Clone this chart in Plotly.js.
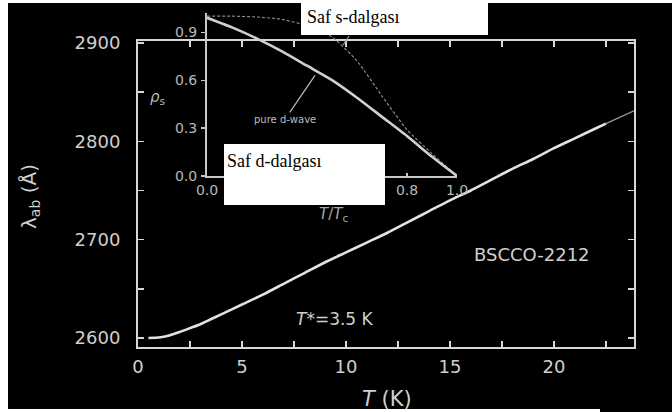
<!DOCTYPE html>
<html>
<head>
<meta charset="utf-8">
<script src="https://cdn.plot.ly/plotly-3.0.1.min.js"></script>
<style>html,body{margin:0;padding:0;background:#000;}#chart{width:672px;height:412px;}</style>
</head>
<body>
<div id="chart"></div>
<script>
// Main curve: penetration depth vs temperature (BSCCO-2212)
const tempK = [0.5, 1, 1.5, 2, 2.5, 3, 3.5, 4, 5, 6, 7, 8, 9, 10, 11, 12, 13, 14, 15, 16, 17, 18, 19, 20, 21, 22, 22.5];
const lambdaAb = [2600, 2600.5, 2602.5, 2606, 2610, 2614, 2619, 2624, 2634, 2644, 2655, 2666, 2677, 2687, 2697, 2707, 2718, 2729, 2740, 2750, 2761, 2772, 2782, 2793, 2803, 2813, 2818];
const tailTempK = [22.5, 23.85];
const tailLambda = [2818, 2831];

// Inset: superfluid density vs reduced temperature
const tReduced = [0, 0.1, 0.2, 0.3, 0.4, 0.5, 0.6, 0.7, 0.8, 0.9, 1.0];
const rhoDwave = [0.99, 0.93, 0.86, 0.78, 0.69, 0.60, 0.49, 0.37, 0.25, 0.12, 0.0];
const rhoSwave = [1.0, 1.0, 0.995, 0.98, 0.94, 0.87, 0.72, 0.50, 0.29, 0.14, 0.0];

const mainXTicks = [0, 5, 10, 15, 20];
const mainYTicks = [2600, 2700, 2800, 2900];
const insetXTicks = [0, 0.2, 0.4, 0.6, 0.8, 1.0];
const insetXTickText = ['0.0', '0.2', '0.4', '0.6', '0.8', '1.0'];
const insetYTicks = [0, 0.3, 0.6, 0.9];
const insetYTickText = ['0.0', '0.3', '0.6', '0.9'];

const W = 672, H = 412;
const px = x => x / W;
const py = y => 1 - y / H;

const FONT = 'DejaVu Sans, Liberation Sans, Arial, sans-serif';
const SERIF = 'Liberation Serif, Times New Roman, serif';
const AX = '#d6d6d6';

const traces = [
  {x: tempK, y: lambdaAb, type: 'scatter', mode: 'lines', xaxis: 'x', yaxis: 'y',
   line: {color: '#e2e2e2', width: 2.6, shape: 'spline', smoothing: 0.6}, hoverinfo: 'skip'},
  {x: tailTempK, y: tailLambda, type: 'scatter', mode: 'lines', xaxis: 'x', yaxis: 'y',
   line: {color: '#9a9a9a', width: 1.3}, hoverinfo: 'skip'},
  {x: tReduced, y: rhoSwave, type: 'scatter', mode: 'lines', xaxis: 'x2', yaxis: 'y2',
   line: {color: '#8a8a8a', width: 1.2, dash: '3px,2px', shape: 'spline', smoothing: 0.6}, hoverinfo: 'skip'},
  {x: tReduced, y: rhoDwave, type: 'scatter', mode: 'lines', xaxis: 'x2', yaxis: 'y2',
   line: {color: '#d0d0d0', width: 2.6, shape: 'spline', smoothing: 0.6}, hoverinfo: 'skip'}
];

const layout = {
  width: W, height: H,
  margin: {l: 0, r: 0, t: 0, b: 0},
  paper_bgcolor: '#000',
  plot_bgcolor: 'rgba(0,0,0,0)',
  showlegend: false,
  font: {family: FONT, color: '#cfcfcf'},
  xaxis: {
    domain: [px(138), px(634)], range: [0, 23.85], anchor: 'y',
    showgrid: false, zeroline: false,
    showline: true, linecolor: AX, linewidth: 2, mirror: 'ticks',
    ticks: 'inside', ticklen: 6, tickwidth: 1.6, tickcolor: AX,
    tickvals: mainXTicks, ticktext: mainXTicks.map(String),
    minor: {ticks: 'inside', dtick: 2.5, tick0: 0, ticklen: 6, tickwidth: 1.6, tickcolor: AX, showgrid: false},
    tickfont: {size: 18, color: '#cfcfcf', family: FONT},
    ticklabelstandoff: 2
  },
  yaxis: {
    domain: [py(347), py(41)], range: [2590.8, 2902], anchor: 'x',
    showgrid: false, zeroline: false,
    showline: true, linecolor: AX, linewidth: 2, mirror: 'ticks',
    ticks: 'inside', ticklen: 6, tickwidth: 1.6, tickcolor: AX,
    tickvals: mainYTicks, ticktext: mainYTicks.map(String),
    minor: {ticks: 'inside', dtick: 50, tick0: 2600, ticklen: 6, tickwidth: 1.6, tickcolor: AX, showgrid: false},
    tickfont: {size: 18, color: '#cfcfcf', family: FONT},
    ticklabelstandoff: 12
  },
  xaxis2: {
    domain: [px(207), px(457)], range: [0, 1], anchor: 'y2',
    showgrid: false, zeroline: false,
    showline: true, linecolor: '#c8c8c8', linewidth: 2,
    ticks: 'inside', ticklen: 3, tickwidth: 1.2, tickcolor: '#c8c8c8',
    tickvals: insetXTicks, ticktext: insetXTickText,
    tickfont: {size: 14, color: '#b8b8b8', family: FONT},
    ticklabelstandoff: 0
  },
  yaxis2: {
    domain: [py(176), py(13)], range: [0, 1.02], anchor: 'x2',
    showgrid: false, zeroline: false,
    showline: true, linecolor: '#c8c8c8', linewidth: 2,
    ticks: 'outside', ticklen: 4, tickwidth: 1.2, tickcolor: '#c8c8c8',
    tickvals: insetYTicks, ticktext: insetYTickText,
    tickfont: {size: 14, color: '#b8b8b8', family: FONT},
    ticklabelstandoff: 1
  },
  shapes: [
    {type: 'rect', xref: 'paper', yref: 'paper', x0: 0, x1: px(8), y0: 0, y1: 1, fillcolor: '#fff', line: {width: 0}, layer: 'above'},
    {type: 'rect', xref: 'paper', yref: 'paper', x0: 0, x1: 1, y0: py(3), y1: 1, fillcolor: '#fff', line: {width: 0}, layer: 'above'},
    {type: 'rect', xref: 'paper', yref: 'paper', x0: 0, x1: px(600), y0: 0, y1: py(409), fillcolor: '#fff', line: {width: 0}, layer: 'above'},
    {type: 'rect', xref: 'paper', yref: 'paper', x0: px(301), x1: px(488), y0: py(35), y1: 1, fillcolor: '#fff', line: {width: 0}, layer: 'above'},
    {type: 'rect', xref: 'paper', yref: 'paper', x0: px(224), x1: px(385), y0: py(205), y1: py(144), fillcolor: '#fff', line: {width: 0}, layer: 'above'},
    {type: 'line', xref: 'paper', yref: 'paper', x0: px(349), y0: py(36), x1: px(343), y1: py(45), line: {color: '#9a9a9a', width: 1.2}, layer: 'above'}
  ],
  annotations: [
    {xref: 'paper', yref: 'paper', x: px(387), y: py(399), text: '<i>T</i> (K)', showarrow: false,
     font: {size: 21, color: '#cfcfcf', family: FONT}, xanchor: 'center', yanchor: 'middle'},
    {xref: 'paper', yref: 'paper', x: px(30), y: py(197), text: 'λ<sub>ab</sub> (Å)', showarrow: false, textangle: -90,
     font: {size: 20, color: '#cfcfcf', family: FONT}, xanchor: 'center', yanchor: 'middle'},
    {xref: 'paper', yref: 'paper', x: px(532), y: py(255), text: 'BSCCO-2212', showarrow: false,
     font: {size: 18, color: '#cfcfcf', family: FONT}, xanchor: 'center', yanchor: 'middle'},
    {xref: 'paper', yref: 'paper', x: px(335), y: py(319), text: '<i>T</i>*=3.5 K', showarrow: false,
     font: {size: 17, color: '#cfcfcf', family: FONT}, xanchor: 'center', yanchor: 'middle'},
    {xref: 'paper', yref: 'paper', x: px(157), y: py(97), text: '<i>ρ</i><sub>s</sub>', showarrow: false,
     font: {size: 15, color: '#b8b8b8', family: FONT}, xanchor: 'center', yanchor: 'middle'},
    {xref: 'paper', yref: 'paper', x: px(333), y: py(214), text: '<i>T</i>/<i>T</i><sub>c</sub>', showarrow: false,
     font: {size: 15, color: '#a8a8a8', family: FONT}, xanchor: 'center', yanchor: 'middle'},
    {xref: 'x2', yref: 'y2', x: 0.432, y: 0.63, ax: -30, ay: 44, text: 'pure d-wave', showarrow: true,
     arrowhead: 0, arrowwidth: 1.2, arrowcolor: '#bdbdbd', standoff: 0,
     font: {size: 10, color: '#bdbdbd', family: FONT}},
    {xref: 'paper', yref: 'paper', x: px(305), y: py(17), text: 'Saf s-dalgası', showarrow: false,
     font: {size: 18, color: '#000', family: SERIF}, xanchor: 'left', yanchor: 'middle'},
    {xref: 'paper', yref: 'paper', x: px(225), y: py(161), text: 'Saf d-dalgası', showarrow: false,
     font: {size: 18, color: '#000', family: SERIF}, xanchor: 'left', yanchor: 'middle'}
  ]
};

Plotly.newPlot('chart', traces, layout, {displayModeBar: false, staticPlot: true});
</script>
</body>
</html>
